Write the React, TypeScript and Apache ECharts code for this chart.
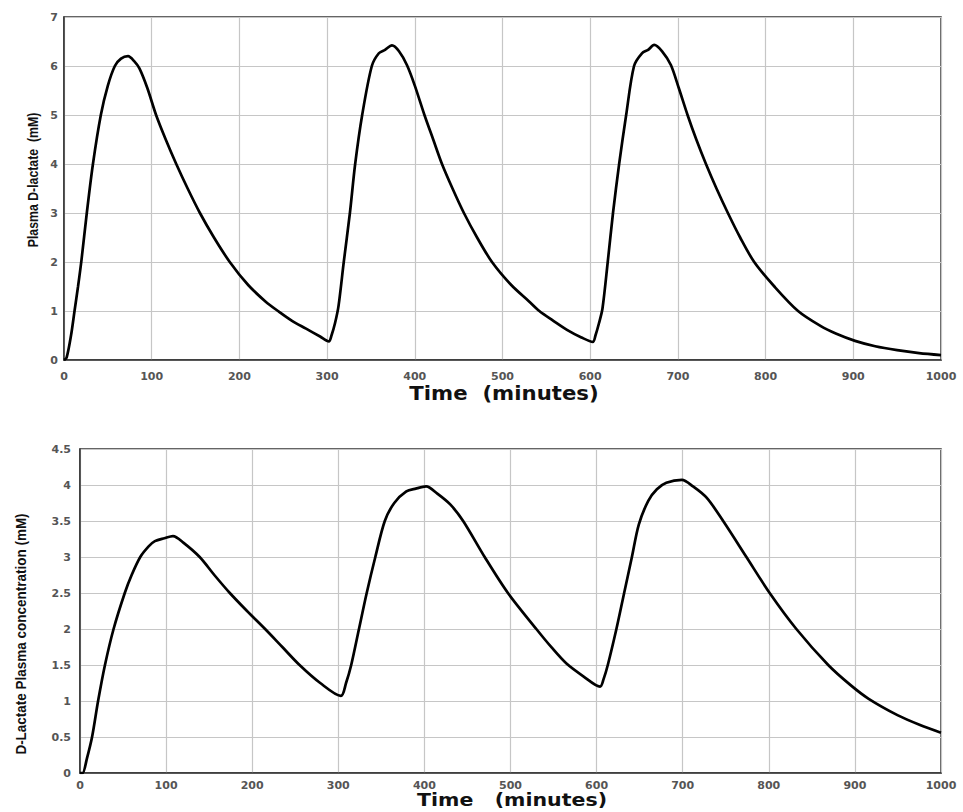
import React, { useEffect, useRef } from "react";
import * as echarts from "echarts";

// ---- Top panel: Plasma D-lactate (mM) vs time (minutes)
const topTime = [
  0, 3, 8, 12, 16, 20, 26, 33, 42, 50, 58, 65, 73, 80, 86, 95, 105, 116, 128, 141, 155, 171, 189, 210, 230, 244, 260, 276, 292, 302,
  305, 309, 313, 319, 326, 332, 340, 351, 359, 366, 374, 382, 391, 400, 411, 421, 431, 443, 456, 471, 488, 510, 530, 542, 558, 574, 590, 603,
  606, 610, 614, 620, 626, 633, 641, 650, 659, 666, 673, 682, 692, 701, 711, 721, 732, 744, 757, 771, 787, 810, 837, 863, 880, 902, 925, 950, 975, 1000,
];
const topValues = [
  0, 0.05, 0.5, 1.0, 1.5, 2.05, 3.0, 4.0, 5.0, 5.6, 6.0, 6.15, 6.2, 6.1, 5.95, 5.55, 5.0, 4.5, 4.0, 3.5, 3.0, 2.5, 2.0, 1.53, 1.19, 1.0, 0.8, 0.64, 0.48, 0.38,
  0.5, 0.75, 1.1, 2.0, 3.0, 4.0, 5.0, 6.0, 6.26, 6.33, 6.42, 6.3, 6.02, 5.6, 5.0, 4.5, 4.0, 3.5, 3.0, 2.5, 2.0, 1.53, 1.2, 1.0, 0.8, 0.61, 0.46, 0.37,
  0.5, 0.75, 1.05, 2.0, 3.0, 4.0, 5.0, 6.0, 6.26, 6.33, 6.43, 6.3, 6.02, 5.55, 5.0, 4.5, 4.0, 3.5, 3.0, 2.5, 2.0, 1.5, 1.0, 0.69, 0.54, 0.39, 0.28, 0.2, 0.14, 0.1,
];

// ---- Bottom panel: D-Lactate Plasma concentration (mM) vs time (minutes)
const bottomTime = [
  0, 3, 8, 14, 21, 29, 39, 52, 60, 70, 80, 87, 98, 108, 120, 139, 156, 174, 194, 215, 235, 255, 279, 303,
  309, 315, 324, 333, 343, 354, 365, 379, 390, 402, 415, 430, 445, 470, 497, 530, 548, 565, 585, 604,
  608, 613, 623, 632, 641, 649, 660, 670, 681, 699, 712, 728, 747, 774, 801, 832, 869, 895, 916, 950, 975, 1000,
];
const bottomValues = [
  0, 0, 0.2, 0.5, 1.0, 1.5, 2.0, 2.5, 2.75, 3.0, 3.15, 3.22, 3.26, 3.29, 3.2, 3.0, 2.75, 2.5, 2.25, 2.0, 1.75, 1.5, 1.25, 1.07,
  1.25, 1.5, 2.0, 2.5, 3.0, 3.5, 3.75, 3.91, 3.95, 3.98, 3.88, 3.73, 3.5, 3.0, 2.5, 2.0, 1.74, 1.52, 1.34, 1.2,
  1.3, 1.5, 2.0, 2.5, 3.0, 3.45, 3.78, 3.94, 4.03, 4.07, 3.98, 3.82, 3.5, 3.0, 2.5, 2.0, 1.5, 1.22, 1.03, 0.8, 0.67, 0.56,
];

const topYTitle = "Plasma D-lactate  (mM)";
const bottomYTitle = "D-Lactate Plasma concentration (mM)";
const topXTitle = "Time  (minutes)";
const bottomXTitle = "Time   (minutes)";

const tickFont = {
  fontFamily: '"DejaVu Sans", Verdana, sans-serif',
  fontWeight: "bold" as const,
  fontSize: 11,
  color: "#555",
};

function xAxisFor(gridIndex: number, margin: number) {
  return {
    type: "value" as const,
    gridIndex,
    min: 0,
    max: 1000,
    interval: 100,
    axisLine: { show: true, onZero: false, lineStyle: { color: "#333", width: 1.5 } },
    axisTick: { show: false },
    axisLabel: { ...tickFont, margin, formatter: (v: number) => String(v) },
    splitLine: { show: true, lineStyle: { color: "#c6c6c6", width: 1.2 } },
  };
}

function yAxisFor(gridIndex: number, max: number, interval: number, margin: number) {
  return {
    type: "value" as const,
    gridIndex,
    min: 0,
    max,
    interval,
    axisLine: { show: true, lineStyle: { color: "#333", width: 1.5 } },
    axisTick: { show: false },
    axisLabel: { ...tickFont, margin, formatter: (v: number) => String(v) },
    splitLine: { show: true, lineStyle: { color: "#c6c6c6", width: 1.2 } },
  };
}

const titleFontX = 'bold 18px "DejaVu Sans", Verdana, sans-serif';
const titleFontY = 'bold 15px "Liberation Sans", Arial, sans-serif';
const center = { textAlign: "center", textVerticalAlign: "middle", align: "center", verticalAlign: "middle" };

export default function App() {
  const ref = useRef<HTMLDivElement>(null);
  useEffect(() => {
    if (!ref.current) return;
    const chart = echarts.init(ref.current, undefined, { renderer: "svg" });
    const topData = topTime.map((t, i) => [t, topValues[i]]);
    const bottomData = bottomTime.map((t, i) => [t, bottomValues[i]]);
    chart.setOption({
      animation: false,
      backgroundColor: "#fff",
      grid: [
        { left: 64, top: 17, width: 877, height: 343, show: true, borderColor: "#333", borderWidth: 1.5 },
        { left: 80, top: 449, width: 861, height: 324, show: true, borderColor: "#333", borderWidth: 1.5 },
      ],
      xAxis: [xAxisFor(0, 11), xAxisFor(1, 7)],
      yAxis: [yAxisFor(0, 7, 1, 6), yAxisFor(1, 4.5, 0.5, 9)],
      series: [
        {
          type: "line",
          xAxisIndex: 0,
          yAxisIndex: 0,
          data: topData,
          showSymbol: false,
          smooth: 0.3,
          lineStyle: { color: "#000", width: 2.7 },
        },
        {
          type: "line",
          xAxisIndex: 1,
          yAxisIndex: 1,
          data: bottomData,
          showSymbol: false,
          smooth: 0.3,
          lineStyle: { color: "#000", width: 2.7 },
        },
      ],
      graphic: [
        {
          type: "text",
          x: 504,
          y: 393,
          scaleX: 1.18,
          scaleY: 1.05,
          style: { text: topXTitle, font: titleFontX, fill: "#111", ...center },
        },
        {
          type: "text",
          x: 512,
          y: 800,
          scaleX: 1.14,
          style: { text: bottomXTitle, font: titleFontX, fill: "#111", ...center },
        },
        {
          type: "text",
          x: 33,
          y: 180,
          rotation: Math.PI / 2,
          scaleX: 0.82,
          style: { text: topYTitle, font: titleFontY, fill: "#111", ...center },
        },
        {
          type: "text",
          x: 21,
          y: 634,
          rotation: Math.PI / 2,
          scaleX: 0.9,
          style: { text: bottomYTitle, font: titleFontY, fill: "#111", ...center },
        },
      ],
    });
    return () => chart.dispose();
  }, []);
  return (
    <div
      ref={ref}
      style={{ position: "fixed", left: 0, top: 0, width: 963, height: 812, background: "#fff" }}
    />
  );
}
